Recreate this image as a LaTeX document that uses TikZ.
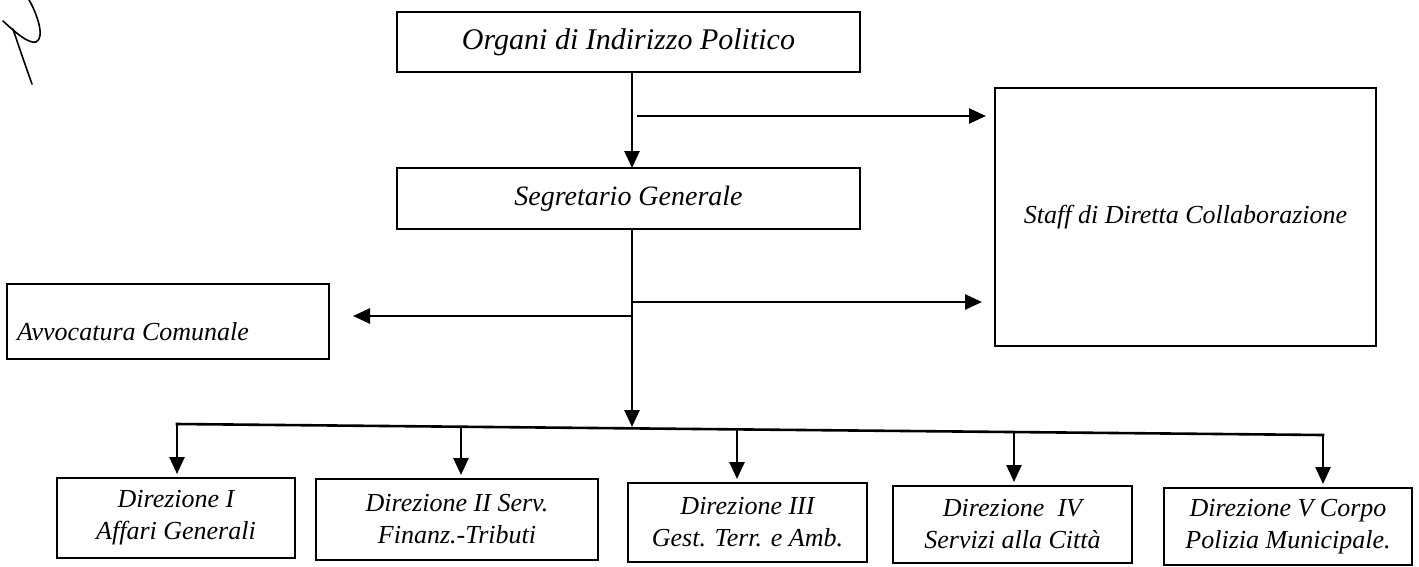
\documentclass[tikz,border=0pt]{standalone}
\usepackage{fontspec}
\setmainfont{Liberation Serif}
\usetikzlibrary{arrows.meta}
\begin{document}
\begin{tikzpicture}[x=1pt,y=-1pt,
  box/.style={draw, line width=2.6pt, inner sep=0pt, outer sep=0pt,
    font=\fontsize{26}{32}\selectfont\itshape, align=center},
  conn/.style={line width=2.6pt, line cap=rect},
  arr/.style={line width=2.6pt, -{Triangle[length=17pt,width=15pt]}},
  handline/.style={line width=1.6pt, line cap=round}
]
\useasboundingbox (0,0) rectangle (1419,566);

% hand-written mark
\draw[handline] (28,-2) .. controls (38,15) and (45,38) .. (36,42) .. controls (28,44) and (14,31) .. (3,21);
\draw[handline] (13,29) .. controls (20,50) and (27,70) .. (32,84);

% boxes
\node[box, minimum width=463pt, minimum height=60pt,
  font=\fontsize{30}{34}\selectfont\itshape] (org) at (628.5,42) {Organi di Indirizzo Politico};
\node[box, minimum width=463pt, minimum height=61pt,
  font=\fontsize{28}{32}\selectfont\itshape] (seg) at (628.5,198.5) {Segretario Generale};
\node[box, minimum width=381pt, minimum height=258pt] (staff) at (1185.5,217) {Staff di Diretta Collaborazione};
\node[box, minimum width=322pt, minimum height=75pt] (avv) at (168,321.5) {};
\node[anchor=base west, inner sep=0pt, font=\fontsize{26}{31}\selectfont\itshape] (avvt) at (17,340) {Avvocatura Comunale};

\node[box, minimum width=238pt, minimum height=80pt] (d1) at (176,518) {Direzione I\\Affari Generali};
\node[box, minimum width=282pt, minimum height=81pt] (d2) at (457,519.5) {Direzione II Serv.\\Finanz.-Tributi};
\node[box, minimum width=239pt, minimum height=79pt] (d3) at (747.5,522.5) {Direzione III\\Gest. Terr. e Amb.};
\node[box, minimum width=239pt, minimum height=77pt] (d4) at (1012.5,524.5) {Direzione\ \ IV\\Servizi alla Città};
\node[box, minimum width=248pt, minimum height=77pt] (d5) at (1288,526.5) {Direzione V Corpo\\Polizia Municipale.};

% connectors
\draw[arr] ([xshift=3.5pt]org.south) -- ([xshift=3.5pt]seg.north);
\coordinate (j1) at (637,116);
\draw[arr, shorten >=9pt] (j1) -- (j1 -| staff.west);

\coordinate (bm) at (632,427);
\draw[arr] ([xshift=3.5pt]seg.south) -- (bm);
\coordinate (j2) at (632,302);
\draw[arr, shorten >=13pt] (j2) -- (j2 -| staff.west);
\coordinate (j3) at (632,316);
\draw[arr, shorten >=24pt] (j3) -- (j3 -| avv.east);

\coordinate (b1) at (177,424);
\coordinate (b2) at (461,426.7);
\coordinate (b3) at (737,429.4);
\coordinate (b4) at (1014,432);
\coordinate (b5) at (1323,435);
\draw[conn] (b1) -- (b5);
\draw[arr, shorten >=4pt] (b1) -- (b1 |- d1.north);
\draw[arr, shorten >=4pt] (b2) -- (b2 |- d2.north);
\draw[arr, shorten >=4pt] (b3) -- (b3 |- d3.north);
\draw[arr, shorten >=4pt] (b4) -- (b4 |- d4.north);
\draw[arr, shorten >=4pt] (b5) -- (b5 |- d5.north);
\end{tikzpicture}
\end{document}
